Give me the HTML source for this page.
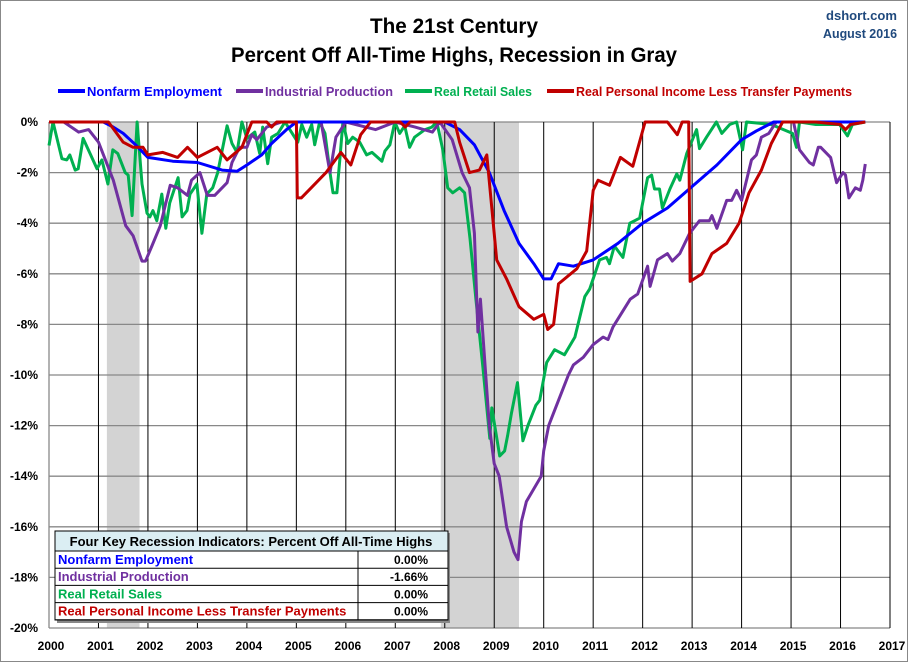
<!DOCTYPE html>
<html><head><meta charset="utf-8"><style>
body{margin:0;background:#fff}
#wrap{position:relative;width:908px;height:662px;overflow:hidden;font-family:"Liberation Sans Narrow","Liberation Sans",sans-serif}
</style></head><body>
<div id="wrap">
<svg id="chart" width="908" height="662" xmlns="http://www.w3.org/2000/svg"></svg>
</div>
<script>
const yTicks=[0,-2,-4,-6,-8,-10,-12,-14,-16,-18,-20];
const yearTicks=[2000,2001,2002,2003,2004,2005,2006,2007,2008,2009,2010,2011,2012,2013,2014,2015,2016,2017];
const recessions=[[2001.17,2001.83],[2007.92,2009.5]];
const seriesNames=["Nonfarm Employment","Industrial Production","Real Retail Sales","Real Personal Income Less Transfer Payments"];
const seriesColors=["#0000ff","#7030a0","#00b050","#c00000"];
const tableValues=["0.00%","-1.66%","0.00%","0.00%"];

const empDates=[2000,2001.1,2001.3,2001.5,2001.75,2002,2002.5,2003,2003.5,2003.8,2004,2004.3,2004.5,2004.8,2005,2008.0,2008.3,2008.6,2008.9,2009.2,2009.5,2009.8,2010.0,2010.15,2010.3,2010.6,2011.0,2011.5,2012.0,2012.5,2013.0,2013.5,2014.0,2014.3,2014.65,2016.5];
const empVals=[0,0,-0.2,-0.45,-0.9,-1.4,-1.55,-1.6,-1.9,-1.95,-1.7,-1.3,-0.85,-0.3,0,0,-0.3,-0.9,-2.0,-3.5,-4.8,-5.6,-6.2,-6.2,-5.6,-5.7,-5.45,-4.8,-4.0,-3.4,-2.55,-1.7,-0.7,-0.35,0,0];

const ipDates=[2000,2000.3,2000.6,2000.8,2001.0,2001.3,2001.55,2001.7,2001.88,2001.95,2002.08,2002.25,2002.45,2002.6,2002.8,2002.88,2003.05,2003.2,2003.35,2003.6,2003.7,2003.85,2004.0,2004.1,2004.2,2004.4,2004.7,2005.5,2005.68,2005.8,2006.0,2006.6,2007.0,2007.4,2007.75,2007.9,2008.15,2008.35,2008.5,2008.6,2008.67,2008.72,2008.9,2009.0,2009.1,2009.25,2009.4,2009.48,2009.55,2009.65,2009.8,2009.95,2010.0,2010.1,2010.2,2010.4,2010.5,2010.6,2010.8,2011.0,2011.2,2011.3,2011.4,2011.75,2011.9,2012.1,2012.15,2012.3,2012.5,2012.6,2012.75,2012.95,2013.15,2013.35,2013.4,2013.5,2013.7,2013.8,2013.9,2014.0,2014.2,2014.3,2014.4,2014.55,2014.7,2015.05,2015.17,2015.37,2015.45,2015.55,2015.6,2015.8,2015.92,2016.05,2016.1,2016.17,2016.3,2016.4,2016.45,2016.5];
const ipVals=[0,0,-0.4,-0.3,-0.8,-2.3,-4.1,-4.5,-5.5,-5.5,-4.9,-4.1,-2.5,-2.6,-2.9,-2.3,-2.0,-2.9,-2.9,-2.4,-1.6,-1.0,-1.0,-0.5,-0.7,-0.2,0,0,-2.0,-0.6,0,-0.3,0,-0.2,-0.4,0,-0.7,-2.0,-2.6,-4.4,-8.3,-7.0,-12,-13.5,-14,-16,-17,-17.3,-15.8,-15,-14.5,-14,-13,-12,-11.5,-10.5,-10,-9.6,-9.3,-8.8,-8.5,-8.6,-8.1,-7.0,-6.8,-5.7,-6.5,-5.45,-5.2,-5.5,-5.2,-4.4,-3.9,-3.9,-3.7,-4.2,-3.1,-3.1,-2.7,-3.1,-1.5,-1.3,-0.6,-0.45,0,0,-1.1,-1.6,-1.7,-1.0,-1.0,-1.4,-2.4,-2.0,-2.1,-3.0,-2.6,-2.7,-2.3,-1.66];

const rsDates=[
2000,2000.08,2000.26,2000.36,2000.42,2000.53,2000.59,2000.69,2000.83,2000.97,
2001.07,2001.19,2001.29,2001.39,2001.54,2001.6,2001.68,2001.78,2001.88,2001.98,
2002.04,2002.1,2002.18,2002.28,2002.36,2002.44,2002.61,2002.69,2002.79,2002.85,2002.99,
2003.09,2003.19,2003.31,2003.41,2003.6,2003.7,2003.8,2003.9,
2004.0,2004.16,2004.26,2004.32,2004.42,2004.5,2004.63,2004.77,
2005.03,2005.11,2005.21,2005.31,2005.37,2005.47,2005.58,2005.68,2005.74,2005.82,2005.88,2005.94,
2006.04,2006.14,2006.28,2006.42,2006.53,2006.73,2006.79,2006.89,2006.99,
2007.09,2007.19,2007.29,2007.39,2007.6,2007.74,2007.84,2007.96,
2008.06,2008.16,2008.30,2008.40,2008.51,2008.63,2008.77,2008.91,2008.95,
2009.11,2009.21,2009.27,2009.35,2009.47,2009.58,2009.68,2009.84,2009.92,
2010.06,2010.22,2010.42,2010.63,2010.83,2010.93,
2011.13,2011.27,2011.33,2011.43,2011.60,2011.74,2011.94,
2012.10,2012.18,2012.24,2012.34,2012.40,2012.55,2012.69,2012.75,2012.89,
2013.09,2013.15,2013.29,2013.49,2013.60,2013.76,2013.90,
2014.02,2014.10,2014.6,
2015.03,2015.11,2015.17,2015.5,2015.98,
2016.14,2016.24,2016.5];
const rsVals=[
-0.93,0,-1.45,-1.5,-1.3,-1.9,-1.85,-0.65,-1.25,-1.85,
-1.5,-2.45,-1.1,-1.25,-2.0,-2.1,-3.7,0,-2.45,-3.6,
-3.75,-3.5,-3.9,-2.85,-4.2,-3.2,-2.2,-3.75,-3.5,-2.85,-2.45,
-4.4,-2.85,-2.6,-2.0,-0.15,-0.85,-1.2,0,
-0.65,-0.4,-1.25,-0.2,-1.65,-0.6,-0.45,0,
-0.8,-0.1,-0.6,-0.1,-0.9,0,-0.45,-2.0,-2.8,-2.8,-1.45,0,
-0.85,-0.6,-0.8,-1.3,-1.2,-1.55,-1.15,-0.9,0,
-0.45,-0.15,-1.0,-0.6,-0.3,-0.2,0,-1.1,
-2.6,-2.8,-2.6,-2.8,-4.6,-7.0,-9.7,-12.5,-11.3,
-13.2,-13.0,-12.4,-11.5,-10.3,-12.6,-12.0,-11.2,-11.0,
-9.5,-9.0,-9.2,-8.5,-6.9,-6.6,
-5.45,-5.35,-5.6,-4.9,-5.35,-4.0,-3.8,
-2.2,-2.1,-2.65,-2.65,-3.4,-2.65,-2.05,-2.3,-1.25,
-0.3,-1.05,-0.6,0,-0.45,-0.1,0,
-1.1,0,-0.1,
-0.45,-1.0,0,-0.1,-0.1,
-0.55,-0.1,0];

const piDates=[2000,2001.2,2001.5,2001.7,2001.9,2002.0,2002.3,2002.6,2002.8,2003.0,2003.4,2003.6,2003.9,2004.1,2004.4,2004.5,2004.6,2005.0,2005.02,2005.1,2005.3,2005.6,2005.9,2006.1,2006.3,2006.5,2007.1,2007.2,2007.3,2008.2,2008.3,2008.5,2008.7,2008.85,2009.05,2009.25,2009.5,2009.8,2010.0,2010.08,2010.2,2010.3,2010.67,2010.87,2011.0,2011.1,2011.33,2011.55,2011.8,2012.05,2012.5,2012.7,2012.8,2012.93,2012.96,2013.2,2013.4,2013.7,2013.95,2014.15,2014.4,2014.6,2014.83,2015.5,2016.0,2016.1,2016.2,2016.5];
const piVals=[0,0,-0.8,-1.0,-1.0,-1.3,-1.2,-1.4,-1.0,-1.4,-1.0,-1.5,-1.0,0,0,-0.2,0,0,-3.0,-3.0,-2.6,-2.0,-1.2,-1.7,-0.5,0,0,-0.2,0,0,-0.8,-2.0,-1.9,-1.3,-5.45,-6.2,-7.3,-7.8,-7.6,-8.2,-8.0,-6.4,-5.8,-5.1,-2.7,-2.3,-2.5,-1.4,-1.75,0,0,-0.5,0,0,-6.3,-6.0,-5.2,-4.8,-4.0,-2.8,-1.9,-0.85,0,0,-0.1,-0.3,-0.1,0];

const svg=document.getElementById('chart');
const NS='http://www.w3.org/2000/svg';
const L=49,R=890,T=122,B=628;
const xS=y=>L+(y-2000)*(R-L)/17;
const yS=v=>T+(-v)*(B-T)/20;
function mk(tag,attrs,parent){const e=document.createElementNS(NS,tag);for(const k in attrs)e.setAttribute(k,attrs[k]);(parent||svg).appendChild(e);return e;}

const frame=mk('rect',{x:0.5,y:0.5,width:907,height:661,fill:'#fff',stroke:'#888'});



recessions.forEach((r,i)=>{
  const e=mk('rect',{x:xS(r[0]),y:T,width:xS(r[1])-xS(r[0]),height:B-T,fill:'#d3d3d3'});
  
  
});
yTicks.forEach(t=>{
  const g=mk('line',{x1:L,x2:R,y1:yS(t),y2:yS(t),stroke:'#888','stroke-width':1.3});
  
  
  const tx=mk('text',{x:L-11,y:yS(t)+4,'text-anchor':'end','font-size':12,'font-weight':'bold',fill:'#000'});
  
  
  tx.textContent=t+'%';
});
yearTicks.forEach(y=>{
  const g=mk('line',{x1:xS(y),x2:xS(y),y1:T,y2:B,stroke:'#000','stroke-width':1});
  
  
  const tx=mk('text',{x:xS(y)+2,y:650,'text-anchor':'middle','font-size':12,'font-weight':'bold',fill:'#000'});
  
  
  tx.textContent=y;
});
const ax=mk('line',{x1:L,x2:L,y1:T,y2:B,stroke:'#888','stroke-width':1.3});



const allDates=[empDates,ipDates,rsDates,piDates];
const allVals=[empVals,ipVals,rsVals,piVals];
const order=[2,1,0,3];
order.forEach(i=>{
  const n=Math.min(allDates[i].length,allVals[i].length);
  let d='';
  for(let j=0;j<n;j++) d+=(j?'L':'M')+xS(allDates[i][j]).toFixed(1)+','+yS(allVals[i][j]).toFixed(1);
  const p=mk('path',{d:d,fill:'none',stroke:seriesColors[i],'stroke-width':3,'stroke-linejoin':'round'});
  
  
});

// titles
[['The 21st Century',33,168],['Percent Off All-Time Highs, Recession in Gray',62,446]].forEach((t,i)=>{
  const e=mk('text',{x:454,y:t[1],'text-anchor':'middle','font-size':21,'font-weight':'bold',fill:'#000',textLength:t[2],lengthAdjust:'spacingAndGlyphs'});
  
  
  e.textContent=t[0];
});
[['dshort.com',20,71],['August 2016',38,74]].forEach((t,i)=>{
  const e=mk('text',{x:897,y:t[1],'text-anchor':'end','font-size':13,'font-weight':'bold',fill:'#1f497d',textLength:t[2],lengthAdjust:'spacingAndGlyphs'});
  
  
  e.textContent=t[0];
});
// legend
const legX=[58,236,405,547];
const legW=[135,128,98,276];
seriesNames.forEach((n,i)=>{
  const g=mk('g',{});
  
  
  mk('line',{x1:legX[i],x2:legX[i]+27,y1:91,y2:91,stroke:seriesColors[i],'stroke-width':4},g);
  const t=mk('text',{x:legX[i]+29,y:96,'font-size':13,'font-weight':'bold',fill:seriesColors[i],textLength:legW[i],lengthAdjust:'spacingAndGlyphs'},g);
  t.textContent=n;
});
// table
const tb=mk('g',{});


mk('rect',{x:57,y:533,width:393,height:90,fill:'#888'},tb);
mk('rect',{x:55,y:531,width:393,height:89,fill:'#fff',stroke:'#000'},tb);
mk('rect',{x:55,y:531,width:393,height:20,fill:'#dbeef3',stroke:'#000'},tb);
const ht=mk('text',{x:251,y:546,'text-anchor':'middle','font-size':13,'font-weight':'bold',fill:'#000'},tb);
ht.textContent='Four Key Recession Indicators: Percent Off All-Time Highs';
seriesNames.forEach((n,i)=>{
  const y0=551+i*17.2;
  mk('line',{x1:55,x2:448,y1:y0+17.2,y2:y0+17.2,stroke:'#000'},tb);
  const a=mk('text',{x:58,y:y0+13,'font-size':13,'font-weight':'bold',fill:seriesColors[i]},tb);
  a.textContent=n;
  const b=mk('text',{x:428,y:y0+13,'text-anchor':'end','font-size':12,'font-weight':'bold',fill:'#000'},tb);
  b.textContent=tableValues[i];
});
mk('line',{x1:358,x2:358,y1:551,y2:620,stroke:'#000'},tb);
</script>
</body></html>
